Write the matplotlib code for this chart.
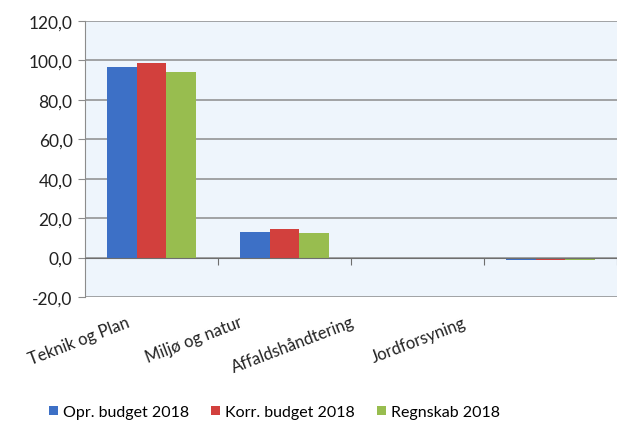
import matplotlib.pyplot as plt
import numpy as np

plt.rcParams['font.family'] = ['Lato', 'DejaVu Sans']

categories = ['Teknik og Plan', 'Miljø og natur', 'Affaldshåndtering', 'Jordforsyning']
series = ['Opr. budget 2018', 'Korr. budget 2018', 'Regnskab 2018']
opr = [96.5, 13.0, 0.0, -1.1]
korr = [98.7, 14.5, 0.0, -1.1]
regnskab = [93.9, 12.3, 0.0, -1.2]
yticks = [-20, 0, 20, 40, 60, 80, 100, 120]

colors = ['#3D70C6', '#D2403D', '#98BD4F']

fig = plt.figure(figsize=(6.17, 4.27), dpi=100)
ax = fig.add_axes([85 / 617, 1 - 298 / 427, 1 - 85 / 617, (298 - 22) / 427])
ax.set_facecolor('#EEF5FC')

x = np.arange(len(categories))
w = 0.222
for i, (vals, name) in enumerate(zip([opr, korr, regnskab], series)):
    ax.bar(x + (i - 1) * w, vals, w, color=colors[i], label=name, zorder=3)

ax.set_xlim(-0.5, len(categories) - 0.5)
ax.set_ylim(-20, 120)
ax.set_yticks(yticks)
ax.yaxis.set_major_formatter(plt.FuncFormatter(lambda v, p: ('%.1f' % v).replace('.', ',')))
ax.tick_params(axis='y', length=5, color='#8C8C8C', labelsize=12.5, pad=4, labelcolor='#222222')
ax.grid(axis='y', color='#8C8C8C', linewidth=1.1, zorder=1)

for s in ['top', 'right']:
    ax.spines[s].set_visible(False)
ax.spines['left'].set_color('#8C8C8C')
ax.spines['bottom'].set_position(('data', 0))
ax.spines['bottom'].set_color('#6E6E6E')
ax.spines['bottom'].set_zorder(4)
ax.set_xticks(x + 0.5)
ax.set_xticklabels([])
ax.tick_params(axis='x', length=5, color='#6E6E6E', direction='out')

# rotated category labels
for i, c in enumerate(categories):
    fig.text((131 + i * 112) / 617, 1 - 327 / 427, c, rotation=21,
             rotation_mode='anchor', ha='right', va='baseline',
             fontsize=12, color='#222222')

fig.legend(loc='lower center', bbox_to_anchor=(0.445, -0.018), ncol=3,
           frameon=False, fontsize=11.5, handlelength=0.55, handleheight=0.55,
           handletextpad=0.3, columnspacing=1.4)

plt.savefig('out.png', dpi=100)
